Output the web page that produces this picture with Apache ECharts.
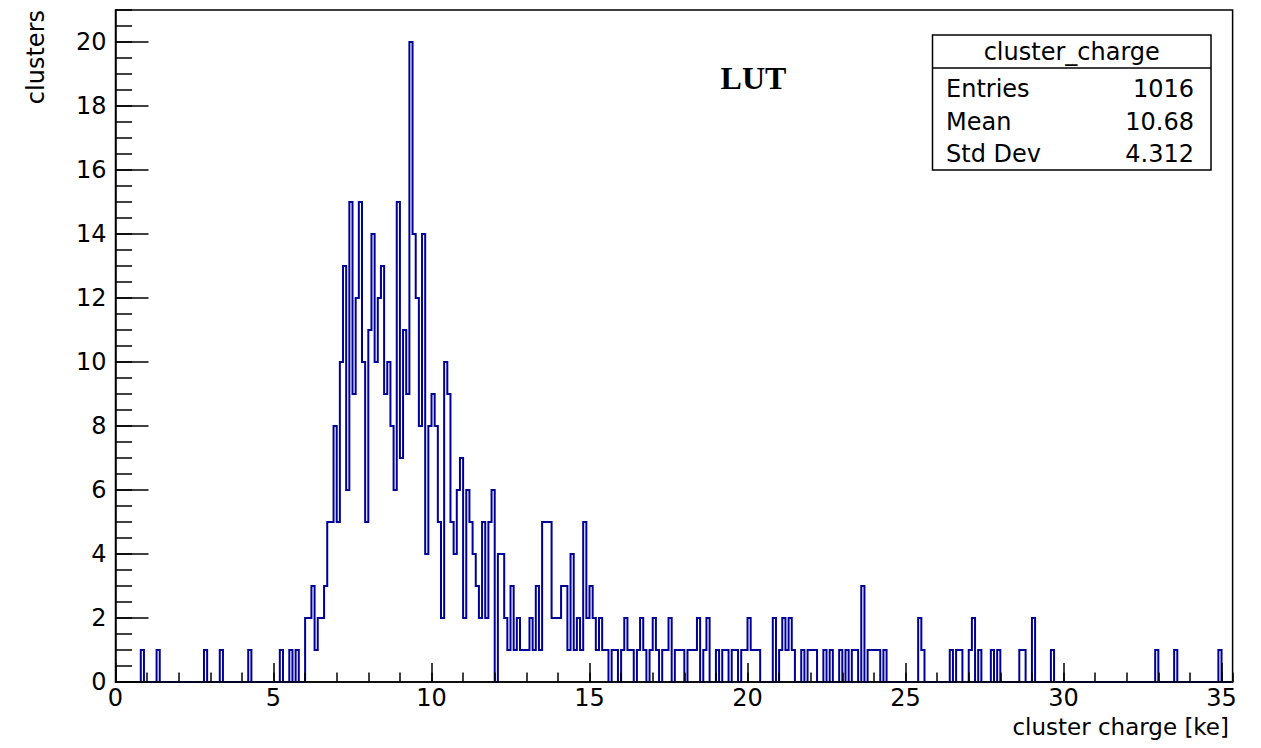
<!DOCTYPE html>
<html>
<head>
<meta charset="utf-8">
<title>cluster_charge</title>
<script src="https://cdn.jsdelivr.net/npm/echarts@6/dist/echarts.min.js"></script>
<style>
  html, body { margin: 0; padding: 0; background: #fff; overflow: hidden; }
  #chart { width: 1261px; height: 748px; }
</style>
</head>
<body>
<div id="chart"></div>
<script>
// ---- histogram definition -------------------------------------------------
const BIN_WIDTH = 0.1;          // ke per bin
const X_RANGE = [0, 35.35];     // cluster charge [ke]
const Y_RANGE = [0, 21];        // clusters per bin
const X_MAJOR = 5;
const X_MINOR = 1;
const Y_MAJOR = 2;
const Y_MINOR = 0.5;

// clusters per 0.1 ke bin, one row = 1 ke (ten bins)
const clusterCounts = [
  0, 0, 0, 0, 0, 0, 0, 0, 1, 0,     //  0
  0, 0, 0, 1, 0, 0, 0, 0, 0, 0,     //  1
  0, 0, 0, 0, 0, 0, 0, 0, 1, 0,     //  2
  0, 0, 0, 1, 0, 0, 0, 0, 0, 0,     //  3
  0, 0, 1, 0, 0, 0, 0, 0, 0, 0,     //  4
  0, 0, 1, 0, 0, 1, 0, 1, 0, 0,     //  5
  2, 2, 3, 1, 2, 2, 3, 5, 5, 8,     //  6
  5, 10, 13, 6, 15, 9, 12, 15, 10, 5, //  7
  11, 14, 10, 12, 13, 9, 10, 8, 6, 15, // 8
  7, 11, 9, 20, 14, 12, 8, 14, 4, 8,  //  9
  9, 8, 5, 2, 10, 9, 5, 4, 6, 7,    // 10
  2, 6, 5, 4, 3, 2, 5, 2, 5, 6,     // 11
  0, 4, 4, 2, 1, 3, 1, 2, 1, 1,     // 12
  1, 2, 1, 3, 1, 5, 5, 5, 2, 2,     // 13
  2, 3, 3, 1, 4, 1, 2, 1, 5, 2,     // 14
  3, 2, 1, 2, 1, 1, 0, 1, 1, 0,     // 15
  1, 2, 1, 1, 0, 1, 2, 1, 0, 1,     // 16
  2, 1, 0, 1, 1, 2, 0, 1, 1, 1,     // 17
  0, 1, 1, 1, 2, 0, 1, 2, 0, 0,     // 18
  1, 0, 1, 1, 0, 1, 1, 0, 1, 1,     // 19
  2, 1, 1, 1, 0, 0, 0, 0, 2, 0,     // 20
  1, 2, 1, 2, 1, 0, 0, 1, 0, 1,     // 21
  1, 1, 0, 0, 1, 0, 1, 0, 0, 1,     // 22
  0, 1, 0, 1, 1, 0, 3, 0, 1, 1,     // 23
  1, 1, 0, 1, 0, 0, 0, 0, 0, 0,     // 24
  0, 0, 0, 0, 2, 1, 0, 0, 0, 0,     // 25
  0, 0, 0, 0, 1, 0, 1, 1, 0, 0,     // 26
  1, 2, 0, 1, 0, 0, 0, 1, 0, 1,     // 27
  0, 0, 0, 0, 0, 0, 1, 1, 0, 0,     // 28
  2, 0, 0, 0, 0, 0, 1, 0, 0, 0,     // 29
  0, 0, 0, 0, 0, 0, 0, 0, 0, 0,     // 30
  0, 0, 0, 0, 0, 0, 0, 0, 0, 0,     // 31
  0, 0, 0, 0, 0, 0, 0, 0, 0, 1,     // 32
  0, 0, 0, 0, 0, 1, 0, 0, 0, 0,     // 33
  0, 0, 0, 0, 0, 0, 0, 0, 0, 1,     // 34
  0, 0, 0                           // 35
];

// statistics box
const statsTitle = 'cluster_charge';
const statsNames = ['Entries', 'Mean', 'Std Dev'];
const statsValues = ['1016', '10.68', '4.312'];

const plotLabel = 'LUT';
const xTitle = 'cluster charge [ke]';
const yTitle = 'clusters';

// ---- styling ----------------------------------------------------------------
const FONT = '"DejaVu Sans", "Liberation Sans", sans-serif';
const INK = '#000';
const HIST_COLOR = '#000099';
const FRAME = { left: 115.5, right: 28.4, top: 10, bottom: 66 };

// outline of the histogram: a flat top over every bin, vertical steps between
const outline = [];
clusterCounts.forEach((n, i) => {
  const lo = Math.round(i * BIN_WIDTH * 1000) / 1000;
  const hi = Math.round((i + 1) * BIN_WIDTH * 1000) / 1000;
  outline.push([lo, n], [hi, n]);
});

const tickStyle = { color: INK, width: 1.5 };

function hiddenLabels() { return { show: false }; }

const option = {
  animation: false,
  backgroundColor: '#fff',
  grid: [
    Object.assign({ show: true, borderColor: INK, borderWidth: 1.5,
                    backgroundColor: 'transparent', containLabel: false,
                    outerBoundsMode: 'none' }, FRAME),
    Object.assign({ show: false, containLabel: false, outerBoundsMode: 'none' }, FRAME)
  ],
  xAxis: [
    {
      type: 'value', gridIndex: 0, position: 'bottom', z: 5,
      min: X_RANGE[0], max: X_RANGE[1], interval: X_MAJOR,
      axisLine: { show: true, onZero: false, lineStyle: tickStyle },
      axisTick: { show: true, inside: true, length: 19, lineStyle: tickStyle },
      axisLabel: { show: true, margin: 4, color: INK, fontFamily: FONT, fontSize: 24,
                   lineHeight: 24, showMinLabel: true, showMaxLabel: false },
      splitLine: { show: false }
    },
    {
      type: 'value', gridIndex: 1, position: 'bottom', z: 5,
      min: X_RANGE[0], max: X_RANGE[1], interval: X_MINOR,
      axisLine: { show: false },
      axisTick: { show: true, inside: true, length: 9.5, lineStyle: tickStyle },
      axisLabel: hiddenLabels(),
      splitLine: { show: false }
    }
  ],
  yAxis: [
    {
      type: 'value', gridIndex: 0, position: 'left', z: 5,
      min: Y_RANGE[0], max: Y_RANGE[1], interval: Y_MAJOR,
      axisLine: { show: true, onZero: false, lineStyle: tickStyle },
      axisTick: { show: true, inside: true, length: 33, lineStyle: tickStyle },
      axisLabel: { show: true, margin: 9, color: INK, fontFamily: FONT, fontSize: 24,
                   showMinLabel: true, showMaxLabel: false },
      splitLine: { show: false }
    },
    {
      type: 'value', gridIndex: 1, position: 'left', z: 5,
      min: Y_RANGE[0], max: Y_RANGE[1], interval: Y_MINOR,
      axisLine: { show: false },
      axisTick: { show: true, inside: true, length: 16.5, lineStyle: tickStyle },
      axisLabel: hiddenLabels(),
      splitLine: { show: false }
    }
  ],
  series: [{
    name: statsTitle,
    type: 'line',
    xAxisIndex: 0,
    yAxisIndex: 0,
    data: outline,
    symbol: 'none',
    showSymbol: false,
    clip: true,
    silent: true,
    z: 3,
    lineStyle: { color: HIST_COLOR, width: 2, join: 'miter' }
  }],
  graphic: []
};

// text helper for the free-standing labels
function label(text, x, y, extra) {
  return {
    type: 'text', x: x, y: y, z: 20, silent: true,
    style: Object.assign({
      text: text, fill: INK, fontFamily: FONT, fontSize: 24,
      align: 'left', verticalAlign: 'middle'
    }, extra || {})
  };
}

// statistics box
const box = { x: 932.5, y: 35, w: 278.5, h: 135, split: 68 };
option.graphic.push({
  type: 'rect', z: 18, silent: true,
  shape: { x: box.x, y: box.y, width: box.w, height: box.h },
  style: { fill: '#fff', stroke: INK, lineWidth: 1.5 }
});
option.graphic.push({
  type: 'line', z: 19, silent: true,
  shape: { x1: box.x, y1: box.split, x2: box.x + box.w, y2: box.split },
  style: { stroke: INK, lineWidth: 1.5 }
});
option.graphic.push(label(statsTitle, box.x + box.w / 2, 52, { align: 'center' }));
const rowY = [89, 121.5, 154];
statsNames.forEach((name, k) => {
  option.graphic.push(label(name, 946, rowY[k], { align: 'left' }));
  option.graphic.push(label(statsValues[k], 1194, rowY[k], { align: 'right' }));
});

// plot label
option.graphic.push(label(plotLabel, 753.5, 78, {
  align: 'center', fontFamily: '"Liberation Serif", "Times New Roman", serif',
  fontWeight: 'bold', fontSize: 32
}));

// axis titles
option.graphic.push(label(xTitle, 1229, 727, { align: 'right', fontSize: 23, lineHeight: 23 }));
const yt = label(yTitle, 36, 10, { align: 'right' });
yt.rotation = Math.PI / 2;
option.graphic.push(yt);

const chart = echarts.init(document.getElementById('chart'), null, { renderer: 'svg' });
chart.setOption(option);
</script>
</body>
</html>
